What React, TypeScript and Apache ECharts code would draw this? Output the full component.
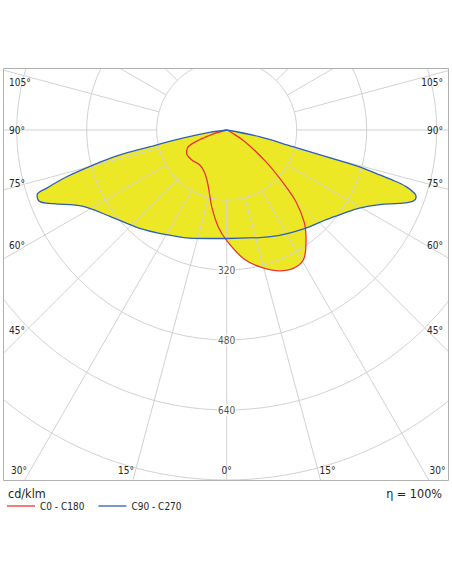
import React, { useEffect, useRef } from "react";
import * as echarts from "echarts";

// ---- data (cd/klm) ----
const c0Gamma = [0, 7.4, 13.7, 20.7, 25.7, 30.5, 35, 37, 40, 44, 47, 51, 57, 63, 68, 90, 180];
const c0Intensity = [253, 296, 322, 344, 351, 345, 316, 301, 276, 228, 175, 115, 52, 10, 0, 0, 0];
const c180Gamma = [0, 5, 11, 18, 26.6, 37, 49.4, 59.8, 66.5, 70, 74, 78, 90, 180];
const c180Intensity = [253, 222, 179, 136, 111, 101, 105, 106, 96, 68, 30, 0, 0, 0];
const c90Gamma = [0, 17, 25, 33, 40.5, 48, 54, 59.5, 64, 67, 69, 70.6, 71.4, 72.5, 73.2, 73.8, 74.5, 75, 75.8, 78.4, 81, 90, 180];
const c90Intensity = [248, 257, 267, 278, 291, 306, 326, 352, 389, 429, 455, 459, 453, 430, 396, 355, 315, 235, 156, 76, 0, 0, 0];
const c270Gamma = [0, 17, 30, 41.5, 53.5, 62, 67, 69, 71.1, 72.1, 73.7, 75.3, 76.7, 77.7, 79.5, 82, 85, 90, 180];
const c270Intensity = [248, 259, 276, 300, 332, 372, 431, 457, 458, 432, 381, 315, 258, 179, 100, 40, 0, 0, 0];

const ringLabels = [320, 480, 640];
const angleLabels = [-105, -90, -75, -60, -45, -30, -15, 0, 15, 30, 45, 60, 75, 90, 105];
const seriesNames = ["C0 - C180", "C90 - C270"];
const unitText = "cd/klm";
const effText = "η = 100%";

// ---- layout ----
const CX = 226.7;
const CY = 130;
const RMAX_PX = 420;
const RMAX = 960;
const FONT = "'DejaVu Sans Condensed', 'DejaVu Sans', sans-serif";
const YELLOW = "#ede826";
const RED = "#ec3434";
const BLUE = "#2e5fb8";
const GRID = "#d2d2d2";
const TEXT = "#262626";

function buildCurve(lg: number[], li: number[], rg: number[], ri: number[]) {
  const pts: number[][] = [];
  for (let i = lg.length - 1; i >= 0; i--) pts.push([li[i], -lg[i]]);
  for (let i = 1; i < rg.length; i++) pts.push([ri[i], rg[i]]);
  return pts;
}

function angleLabelGraphic(a: number) {
  const g = (Math.abs(a) * Math.PI) / 180;
  const side = a < 0 ? -1 : 1;
  const ySide = a === 0 ? Infinity : CY + 200 / Math.tan(g);
  const text = Math.abs(a) + "°";
  if (ySide <= 470) {
    const y = Math.max(82, ySide);
    return {
      type: "text",
      x: side < 0 ? 9 : 443,
      y,
      z: 101,
      style: {
        text, fill: TEXT, fontSize: 10, fontFamily: FONT,
        align: side < 0 ? "left" : "right", verticalAlign: "middle",
        textAlign: side < 0 ? "left" : "right", textVerticalAlign: "middle",
      },
    };
  }
  let x = CX + side * 376 * Math.tan(g);
  x = Math.min(437.5, Math.max(19, x));
  return {
    type: "text",
    x,
    y: 470,
    z: 101,
    style: {
      text, fill: TEXT, fontSize: 10, fontFamily: FONT,
      align: "center", verticalAlign: "middle",
      textAlign: "center", textVerticalAlign: "middle",
    },
  };
}

export default function App() {
  const ref = useRef<HTMLDivElement>(null);
  useEffect(() => {
    if (!ref.current) return;
    const chart = echarts.init(ref.current, null, { renderer: "svg" });
    const redCurve = buildCurve(c180Gamma, c180Intensity, c0Gamma, c0Intensity);
    const blueCurve = buildCurve(c270Gamma, c270Intensity, c90Gamma, c90Intensity);

    const angleCommon = {
      type: "value",
      min: -180,
      max: 180,
      interval: 15,
      startAngle: 90,
      clockwise: false,
      axisLine: { show: false },
      axisTick: { show: false },
      axisLabel: { show: false },
      z: 3,
    };

    const option: any = {
      animation: false,
      backgroundColor: "#fff",
      polar: [
        { center: [CX, CY], radius: [0, RMAX_PX] },
        { center: [CX, CY], radius: [70, RMAX_PX] },
      ],
      angleAxis: [
        { ...angleCommon, polarIndex: 0, splitLine: { show: false } },
        { ...angleCommon, polarIndex: 1, splitLine: { show: true, lineStyle: { color: GRID, width: 1 } } },
      ],
      radiusAxis: [
        {
          polarIndex: 0, type: "value", min: 0, max: RMAX, interval: 160,
          axisLine: { show: false }, axisTick: { show: false }, axisLabel: { show: false },
          splitLine: { show: true, lineStyle: { color: GRID, width: 1 } },
          z: 3,
        },
        {
          polarIndex: 1, type: "value", min: 0, max: RMAX, interval: 160,
          axisLine: { show: false }, axisTick: { show: false }, axisLabel: { show: false },
          splitLine: { show: false },
        },
      ],
      legend: {
        data: seriesNames,
        icon: "rect",
        left: 7,
        top: 501,
        itemWidth: 28,
        itemHeight: 1.3,
        itemGap: 14,
        padding: 0,
        z: 110,
        textStyle: { color: TEXT, fontSize: 10, fontFamily: FONT },
      },
      series: [
        {
          name: "fill-red", type: "line", coordinateSystem: "polar", polarIndex: 0,
          data: redCurve, smooth: 0.35, symbol: "none", z: 2, silent: true,
          lineStyle: { width: 0, opacity: 0 }, areaStyle: { color: YELLOW, opacity: 1 },
        },
        {
          name: "fill-blue", type: "line", coordinateSystem: "polar", polarIndex: 0,
          data: blueCurve, smooth: 0.35, symbol: "none", z: 2, silent: true,
          lineStyle: { width: 0, opacity: 0 }, areaStyle: { color: YELLOW, opacity: 1 },
        },
        {
          name: seriesNames[0], type: "line", coordinateSystem: "polar", polarIndex: 0,
          data: redCurve, smooth: 0.35, symbol: "none", z: 5, color: RED,
          itemStyle: { color: RED },
          lineStyle: { color: RED, width: 1.3 },
        },
        {
          name: seriesNames[1], type: "line", coordinateSystem: "polar", polarIndex: 0,
          data: blueCurve, smooth: 0.35, symbol: "none", z: 5, color: BLUE,
          itemStyle: { color: BLUE },
          lineStyle: { color: BLUE, width: 1.3 },
        },
        {
          name: "ring-labels", type: "scatter", coordinateSystem: "polar", polarIndex: 0,
          data: ringLabels.map((v) => [v, 0]), symbolSize: 0.1, z: 6, silent: true,
          itemStyle: { color: "rgba(0,0,0,0)" },
          label: {
            show: true, position: "inside", formatter: (p: any) => String(p.value[0]),
            color: TEXT, fontSize: 10, fontFamily: FONT, backgroundColor: "#fff", padding: [1, 1],
          },
        },
      ],
      graphic: [
        { type: "rect", z: 100, silent: true, shape: { x: 0, y: 0, width: 452, height: 68 }, style: { fill: "#fff" } },
        { type: "rect", z: 100, silent: true, shape: { x: 0, y: 0, width: 3, height: 584 }, style: { fill: "#fff" } },
        { type: "rect", z: 100, silent: true, shape: { x: 449, y: 0, width: 3, height: 584 }, style: { fill: "#fff" } },
        { type: "rect", z: 100, silent: true, shape: { x: 0, y: 481, width: 452, height: 103 }, style: { fill: "#fff" } },
        {
          type: "rect", z: 101, silent: true,
          shape: { x: 3.5, y: 68.5, width: 445, height: 412 },
          style: { fill: "none", stroke: "#b0b0b0", lineWidth: 1 },
        },
        ...angleLabels.map(angleLabelGraphic),
        {
          type: "text", x: 8, y: 493, z: 101,
          style: {
            text: unitText, fill: TEXT, fontSize: 12.5, fontFamily: FONT,
            align: "left", verticalAlign: "middle", textAlign: "left", textVerticalAlign: "middle",
          },
        },
        {
          type: "text", x: 442, y: 493, z: 101,
          style: {
            text: effText, fill: TEXT, fontSize: 12.5, fontFamily: FONT,
            align: "right", verticalAlign: "middle", textAlign: "right", textVerticalAlign: "middle",
          },
        },
      ],
    };
    chart.setOption(option);
    return () => chart.dispose();
  }, []);
  return (
    <div
      ref={ref}
      style={{ position: "fixed", left: 0, top: 0, width: 452, height: 584, background: "#fff" }}
    />
  );
}
